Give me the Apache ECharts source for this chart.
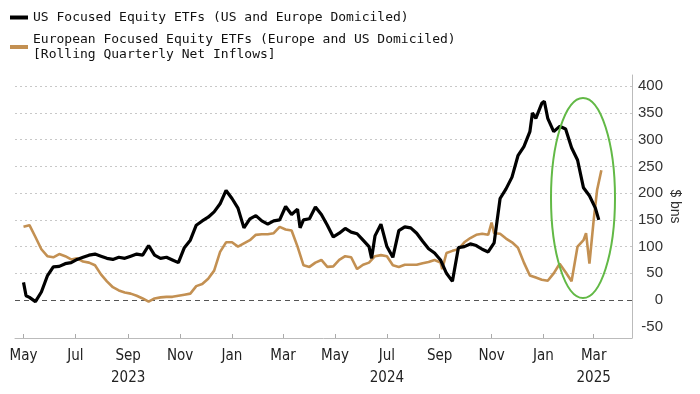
<!DOCTYPE html>
<html>
<head>
<meta charset="utf-8">
<script src="https://cdn.jsdelivr.net/npm/echarts@6/dist/echarts.min.js"></script>
<style>
html,body{margin:0;padding:0;background:#fff;}
#chart{width:700px;height:394px;}
</style>
</head>
<body>
<div id="chart"></div>
<script>
const usName = 'US Focused Equity ETFs (US and Europe Domiciled)';
const euName = 'European Focused Equity ETFs (Europe and US Domiciled)\n[Rolling Quarterly Net Inflows]';

const usDates = ['2023-05-01','2023-05-04','2023-05-08','2023-05-15','2023-05-22','2023-05-29','2023-06-05','2023-06-12','2023-06-19','2023-06-26',
'2023-07-03','2023-07-10','2023-07-17','2023-07-24','2023-07-31','2023-08-07','2023-08-14','2023-08-21','2023-08-28','2023-09-04',
'2023-09-11','2023-09-18','2023-09-25','2023-10-02','2023-10-09','2023-10-16','2023-10-23','2023-10-30','2023-11-06','2023-11-13',
'2023-11-20','2023-11-27','2023-12-04','2023-12-11','2023-12-18','2023-12-25','2024-01-01','2024-01-08','2024-01-15','2024-01-22',
'2024-01-29','2024-02-05','2024-02-12','2024-02-19','2024-02-26','2024-03-04','2024-03-11','2024-03-18','2024-03-21','2024-03-25',
'2024-04-01','2024-04-08','2024-04-15','2024-04-22','2024-04-29','2024-05-06','2024-05-13','2024-05-20','2024-05-27','2024-06-03',
'2024-06-10','2024-06-13','2024-06-17','2024-06-24','2024-07-01','2024-07-08','2024-07-15','2024-07-22','2024-07-29','2024-08-05',
'2024-08-12','2024-08-19','2024-08-26','2024-09-02','2024-09-09','2024-09-16','2024-09-23','2024-09-30','2024-10-07','2024-10-14',
'2024-10-21','2024-10-28','2024-11-04','2024-11-11','2024-11-18','2024-11-25','2024-12-02','2024-12-09','2024-12-16','2024-12-19',
'2024-12-23','2024-12-30','2025-01-02','2025-01-06','2025-01-13','2025-01-20','2025-01-27','2025-02-03','2025-02-10','2025-02-17',
'2025-02-24','2025-03-03','2025-03-07'];
const usValues = [33,8,5,-3,15,45,62,63,68,70,
76,80,84,86,82,78,76,80,78,82,
86,84,102,84,78,80,75,70,98,112,
140,148,155,165,180,205,190,172,135,152,
158,148,142,148,150,175,160,170,135,150,
152,174,160,140,118,125,134,127,124,112,
100,78,120,142,100,80,130,137,135,125,
110,96,88,75,50,35,98,100,105,102,
95,90,107,190,208,230,270,287,315,350,
340,368,372,340,315,325,320,285,262,210,
195,172,150];

const euDates = ['2023-05-01','2023-05-08','2023-05-15','2023-05-22','2023-05-29','2023-06-05','2023-06-12','2023-06-19','2023-06-26','2023-07-03',
'2023-07-10','2023-07-17','2023-07-24','2023-07-31','2023-08-07','2023-08-14','2023-08-21','2023-08-28','2023-09-04','2023-09-11',
'2023-09-18','2023-09-25','2023-10-02','2023-10-09','2023-10-16','2023-10-23','2023-10-30','2023-11-06','2023-11-13','2023-11-20',
'2023-11-27','2023-12-04','2023-12-11','2023-12-18','2023-12-25','2024-01-01','2024-01-08','2024-01-15','2024-01-22','2024-01-29',
'2024-02-05','2024-02-12','2024-02-19','2024-02-26','2024-03-04','2024-03-11','2024-03-18','2024-03-25','2024-04-01','2024-04-08',
'2024-04-15','2024-04-22','2024-04-29','2024-05-06','2024-05-13','2024-05-20','2024-05-27','2024-06-03','2024-06-10','2024-06-17',
'2024-06-24','2024-07-01','2024-07-08','2024-07-15','2024-07-22','2024-07-29','2024-08-05','2024-08-12','2024-08-19','2024-08-26',
'2024-09-02','2024-09-04','2024-09-09','2024-09-16','2024-09-23','2024-09-30','2024-10-07','2024-10-14','2024-10-21','2024-10-28',
'2024-11-01','2024-11-04','2024-11-11','2024-11-18','2024-11-25','2024-12-02','2024-12-09','2024-12-16','2024-12-23','2024-12-30',
'2025-01-06','2025-01-13','2025-01-20','2025-01-27','2025-02-03','2025-02-10','2025-02-17','2025-02-20','2025-02-24','2025-02-26',
'2025-03-01','2025-03-05','2025-03-10'];
const euValues = [137,140,118,95,82,80,86,82,76,78,
72,70,65,48,35,24,18,14,12,8,
3,-3,3,5,6,6,8,10,12,26,
30,40,55,90,108,108,100,106,112,122,
123,123,125,137,132,130,100,65,62,70,
75,62,63,75,82,80,58,66,70,82,
84,82,65,62,66,66,66,69,71,75,
70,58,88,92,95,108,116,122,124,122,
145,125,124,115,108,98,70,46,42,38,
36,50,68,52,35,100,112,125,68,66,
150,206,243];

const yTicks = [-50,0,50,100,150,200,250,300,350,400];
const gridValues = [50,100,150,200,250,300,350,400];
const xTickDates = ['2023-05-01','2023-07-01','2023-09-01','2023-11-01','2024-01-01','2024-03-01','2024-05-01','2024-07-01','2024-09-01','2024-11-01','2025-01-01','2025-03-01'];
const monthNames = ['Jan','Feb','Mar','Apr','May','Jun','Jul','Aug','Sep','Oct','Nov','Dec'];
const yearLabelAt = {'2023-09-01':'2023','2024-07-01':'2024','2025-03-01':'2025'};

const toTs = d => Date.UTC(+d.slice(0,4), +d.slice(5,7) - 1, +d.slice(8,10));
const xTickValues = xTickDates.map(toTs);
const yearByTs = {};
Object.keys(yearLabelAt).forEach(k => { yearByTs[toTs(k)] = yearLabelAt[k]; });

const usData = usDates.map((d, i) => [toTs(d), usValues[i]]);
const euData = euDates.map((d, i) => [toTs(d), euValues[i]]);

const chart = echarts.init(document.getElementById('chart'), null, {renderer: 'canvas'});
const markLines = gridValues.map(v => ({yAxis: v, lineStyle: {type: [2, 3], color: '#c8c8c8', width: 1}}));
markLines.push({yAxis: 0, lineStyle: {type: [5, 4], color: '#555', width: 1.2}});

chart.setOption({
  animation: false,
  backgroundColor: '#fff',
  grid: {left: 15, right: 68, top: 75, bottom: 56, containLabel: false},
  legend: {
    left: 5, top: 5, orient: 'vertical', itemGap: 7,
    itemWidth: 18, itemHeight: 4, icon: 'rect',
    textStyle: {fontFamily: 'DejaVu Sans Mono', fontSize: 13, color: '#111', lineHeight: 15},
    data: [usName, euName]
  },
  xAxis: {
    type: 'value',
    min: toTs('2023-04-21'),
    max: toTs('2025-04-15'),
    splitLine: {show: false},
    axisLine: {show: true, onZero: false, lineStyle: {color: '#bbb', width: 1}},
    axisTick: {show: true, customValues: xTickValues, inside: true, length: 4, lineStyle: {color: '#aaa'}},
    axisLabel: {
      customValues: xTickValues,
      hideOverlap: false,
      showMinLabel: true,
      showMaxLabel: true,
      margin: 7,
      fontFamily: "'Liberation Sans Narrow', 'DejaVu Sans Condensed', 'Liberation Sans', sans-serif",
      fontSize: 15,
      lineHeight: 22,
      color: '#222',
      formatter: function (v) {
        const d = new Date(v);
        let s = monthNames[d.getUTCMonth()];
        const key = Object.keys(yearByTs).find(k => Math.abs(+k - v) < 43200000);
        if (key) s += '\n' + yearByTs[key];
        return s;
      }
    }
  },
  yAxis: {
    type: 'value',
    position: 'right',
    min: -71,
    max: 421,
    name: '$ bns',
    nameLocation: 'middle',
    nameRotate: -90,
    nameGap: 36,
    nameMoveOverlap: false,
    nameTextStyle: {fontFamily: "'Liberation Sans', sans-serif", fontSize: 14, color: '#333'},
    splitLine: {show: false},
    axisLine: {show: true, lineStyle: {color: '#bbb', width: 1}},
    axisTick: {show: false},
    axisLabel: {
      customValues: yTicks,
      align: 'right',
      margin: 31,
      fontFamily: "'Liberation Sans', sans-serif",
      fontSize: 15,
      color: '#333'
    }
  },
  series: [
    {
      name: euName,
      type: 'line',
      data: euData,
      showSymbol: false,
      symbol: 'none',
      z: 3,
      color: '#c39052',
      lineStyle: {color: '#c39052', width: 2.6},
      markLine: {
        silent: true,
        z: 1,
        symbol: ['none', 'none'],
        label: {show: false},
        data: markLines
      }
    },
    {
      name: usName,
      type: 'line',
      data: usData,
      showSymbol: false,
      symbol: 'none',
      z: 4,
      color: '#000',
      lineStyle: {color: '#000', width: 3.2}
    }
  ],
  graphic: [{
    type: 'ellipse',
    shape: {cx: 583, cy: 198, rx: 32, ry: 100},
    style: {fill: 'none', stroke: '#62b946', lineWidth: 2},
    z: 100
  }]
});
</script>
</body>
</html>
